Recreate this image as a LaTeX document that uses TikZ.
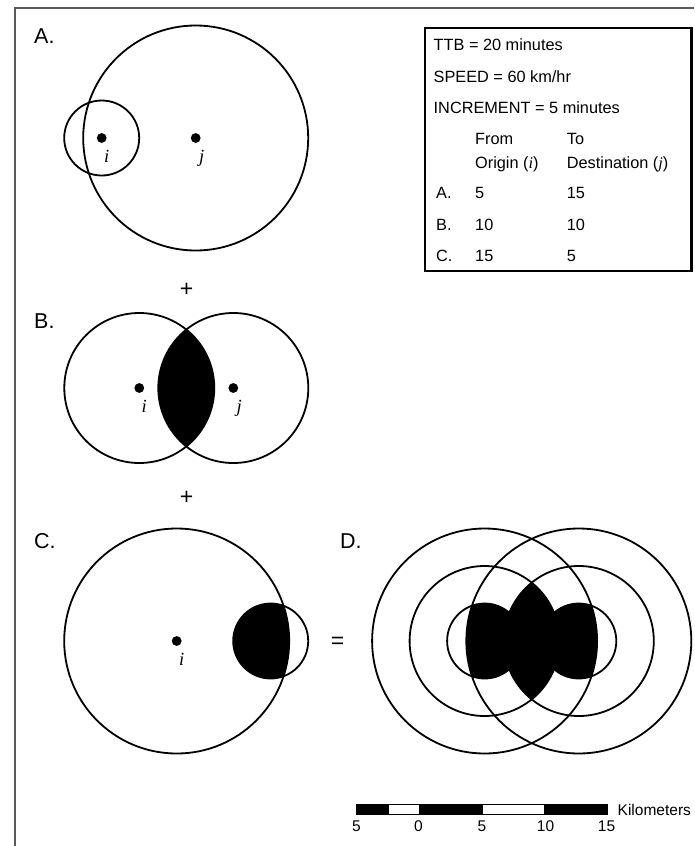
\documentclass[tikz,border=0pt]{standalone}
\usepackage{fontspec}
\setmainfont{Liberation Sans}
\newfontfamily\timesit{Liberation Serif}
\begin{document}
\begin{tikzpicture}[x=1pt,y=-1pt,
  ring/.style={line width=1.8pt},
  lbl/.style={font=\fontsize{21.5}{24}\selectfont, anchor=base west, inner sep=0},
  tbl/.style={font=\fontsize{16.3}{19}\selectfont, anchor=base west, inner sep=0},
  var/.style={font=\fontsize{18.5}{20}\selectfont\timesit\itshape, anchor=base, inner sep=0},
  op/.style={font=\fontsize{23}{24}\selectfont, inner sep=0},
  sc/.style={font=\fontsize{15.5}{17}\selectfont, anchor=base, inner sep=0}]
\useasboundingbox (0,0) rectangle (694,846);
\fill[white] (0,0) rectangle (694,846);
% frame
\draw[black!65, line width=1.5pt] (15,846) -- (15,8) -- (694,8);

% ---------- Panel A ----------
\coordinate (Ai) at (101.7,138);
\coordinate (Aj) at (195.7,138);
\draw[ring] (Ai) circle (37.5pt);
\draw[ring] (Aj) circle (112.5pt);
\fill (Ai) circle (4.9pt);
\fill (Aj) circle (4.9pt);
\node[var] (Ail) at ([xshift=5pt,yshift=-24.5pt]Ai) {i};
\node[var] (Ajl) at ([xshift=6pt,yshift=-24.5pt]Aj) {j};
\node[lbl] (A) at (34,43) {A.};

\node[op] (plus1) at (186.7,290) {+};

% ---------- Panel B ----------
\coordinate (Bi) at (139.3,388);
\coordinate (Bj) at (233.3,388);
\begin{scope}
  \clip (Bi) circle (75pt);
  \fill (Bj) circle (75pt);
\end{scope}
\draw[ring] (Bi) circle (75pt);
\draw[ring] (Bj) circle (75pt);
\fill (Bi) circle (4.9pt);
\fill (Bj) circle (4.9pt);
\node[var] (Bil) at ([xshift=5pt,yshift=-24.5pt]Bi) {i};
\node[var] (Bjl) at ([xshift=6pt,yshift=-24.5pt]Bj) {j};
\node[lbl] (B) at (34,328) {B.};

\node[op] (plus2) at (186.7,498) {+};

% ---------- Panel C ----------
\coordinate (Ci) at (176.7,641);
\coordinate (Cj) at (270.7,641);
\begin{scope}
  \clip (Ci) circle (112.5pt);
  \fill (Cj) circle (37.5pt);
\end{scope}
\draw[ring] (Ci) circle (112.5pt);
\draw[ring] (Cj) circle (37.5pt);
\fill (Ci) circle (4.9pt);
\node[var] (Cil) at ([xshift=5pt,yshift=-24.5pt]Ci) {i};
\node[lbl] (C) at (34,548) {C.};

\node[op] (eq) at (337.7,643) {=};

% ---------- Panel D ----------
\coordinate (Di) at (484.6,641);
\coordinate (Dj) at (578.8,641);
\begin{scope}
  \clip (Di) circle (37.5pt);
  \fill (Dj) circle (112.5pt);
\end{scope}
\begin{scope}
  \clip (Di) circle (75pt);
  \fill (Dj) circle (75pt);
\end{scope}
\begin{scope}
  \clip (Di) circle (112.5pt);
  \fill (Dj) circle (37.5pt);
\end{scope}
\foreach \r in {37.5,75,112.5}{
  \draw[ring] (Di) circle (\r pt);
  \draw[ring] (Dj) circle (\r pt);
}
\node[lbl] (D) at (340,548) {D.};

% ---------- Table ----------
\draw[line width=2.6pt] (425,28) rectangle (691.3,271);
\node[tbl] (t1) at (433.5,50) {TTB = 20 minutes};
\node[tbl] (t2) at (433.5,82.7) {SPEED = 60 km/hr};
\node[tbl] (t3) at (433.5,113.3) {INCREMENT = 5 minutes};
\node[tbl] (h1) at (475,144) {From};
\node[tbl] (h2) at (475,168) {Origin ({\timesit\itshape i})};
\node[tbl] (h3) at (566.7,144) {To};
\node[tbl] (h4) at (566.7,168) {Destination ({\timesit\itshape j})};
\node[tbl] (rA) at (436,198.3) {A.};
\node[tbl] (rA1) at (475,198.3) {5};
\node[tbl] (rA2) at (566.7,198.3) {15};
\node[tbl] (rB) at (436,230) {B.};
\node[tbl] (rB1) at (475,230) {10};
\node[tbl] (rB2) at (566.7,230) {10};
\node[tbl] (rC) at (436,261.7) {C.};
\node[tbl] (rC1) at (475,261.7) {15};
\node[tbl] (rC2) at (566.7,261.7) {5};

% ---------- Scale bar ----------
\begin{scope}[line width=1pt]
  \filldraw[fill=black] (356,804.5) rectangle (388.3,814.5);
  \draw[fill=white] (388.3,804.5) rectangle (419,814.5);
  \filldraw[fill=black] (419,804.5) rectangle (482.7,814.5);
  \draw[fill=white] (482.7,804.5) rectangle (544.3,814.5);
  \filldraw[fill=black] (544.3,804.5) rectangle (607.3,814.5);
\end{scope}
\node[sc] (s1) at (356.5,831) {5};
\node[sc] (s2) at (418.5,831) {0};
\node[sc] (s3) at (482,831) {5};
\node[sc] (s4) at (545.5,831) {10};
\node[sc] (s5) at (606.5,831) {15};
\node[sc, anchor=base west] (km) at (617.5,815) {Kilometers};
\end{tikzpicture}
\end{document}
